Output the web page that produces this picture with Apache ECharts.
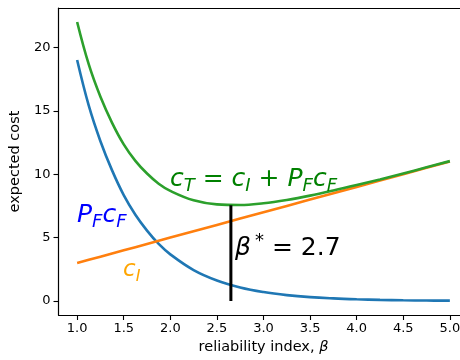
<!DOCTYPE html>
<html>
<head>
<meta charset="utf-8">
<script src="https://cdn.jsdelivr.net/npm/echarts@6/dist/echarts.min.js"></script>
<style>html,body{margin:0;padding:0;background:#fff}#c{width:460px;height:360px}</style>
</head>
<body>
<div id="c"></div>
<script>
// reliability index values (x)
const beta = [1.0, 1.125, 1.25, 1.375, 1.5, 1.625, 1.75, 1.875, 2.0, 2.25, 2.5, 2.75, 3.0, 3.25, 3.5, 3.75, 4.0, 4.25, 4.5, 4.75, 5.0];
// expected failure cost P_F c_F
const failureCost = [19.0, 15.4, 12.6, 10.3, 8.35, 6.8, 5.55, 4.5, 3.68, 2.44, 1.62, 1.07, 0.71, 0.47, 0.31, 0.21, 0.14, 0.09, 0.06, 0.04, 0.03];
// initial cost c_I
const initialCost = [3.0, 3.25, 3.5, 3.75, 4.0, 4.25, 4.5, 4.75, 5.0, 5.5, 6.0, 6.5, 7.0, 7.5, 8.0, 8.5, 9.0, 9.5, 10.0, 10.5, 11.0];
// total cost c_T
const totalCost = [22.0, 18.65, 16.1, 14.05, 12.35, 11.05, 10.05, 9.25, 8.68, 7.94, 7.62, 7.57, 7.71, 7.97, 8.31, 8.71, 9.14, 9.59, 10.06, 10.54, 11.03];
// optimum marker
const optimumBeta = [2.65, 2.65];
const optimumLine = [0, 7.55];
// tick labels
const xTicks = [1.0, 1.5, 2.0, 2.5, 3.0, 3.5, 4.0, 4.5, 5.0];
const yTicks = [0, 5, 10, 15, 20];

const FONT = 'DejaVu Sans';
const pairs = (xs, ys) => xs.map((x, i) => [x, ys[i]]);

const chart = echarts.init(document.getElementById('c'), null, {renderer: 'canvas'});
const axisLine = {show: true, onZero: false, lineStyle: {color: '#000', width: 1.2}};

function rich(size, color) {
  const sub = Math.round(size * 0.7);
  return {
    i: {fontFamily: FONT, fontStyle: 'italic', fontSize: size, lineHeight: 30, fill: color},
    n: {fontFamily: FONT, fontStyle: 'normal', fontSize: size, lineHeight: 30, fill: color},
    s: {fontFamily: FONT, fontStyle: 'italic', fontSize: sub, lineHeight: 17, padding: [14, 0, 0, 0], fill: color},
    p: {fontFamily: FONT, fontStyle: 'normal', fontSize: sub, lineHeight: 17, padding: [0, 0, 14, 4], fill: color}
  };
}
const txt = (left, top, text, size, color) => ({
  type: 'text', left: left, top: top, z: 100,
  style: {text: text, rich: rich(size, color), fill: color}
});

chart.setOption({
  animation: false,
  backgroundColor: '#fff',
  grid: {left: 58.5, top: 8, width: 410, height: 307, containLabel: false, outerBoundsMode: 'none'},
  xAxis: [{
    type: 'value', min: 0.8, max: 5.2, position: 'bottom',
    axisLine: axisLine,
    splitLine: {show: false},
    axisTick: {show: true, inside: false, length: 5, lineStyle: {color: '#000', width: 1.1}, customValues: xTicks},
    axisLabel: {customValues: xTicks, formatter: v => v.toFixed(1), color: '#000', fontFamily: FONT, fontSize: 13, margin: 7},
    name: 'reliability index, {b|β}', nameLocation: 'middle', nameGap: 20,
    nameTextStyle: {color: '#000', fontFamily: FONT, fontSize: 14.5, rich: {b: {fontFamily: FONT, fontStyle: 'italic', fontSize: 14.5, color: '#000'}}}
  }, {
    type: 'value', min: 0.8, max: 5.2, position: 'top',
    axisLine: axisLine, axisTick: {show: false}, axisLabel: {show: false}, splitLine: {show: false}
  }],
  yAxis: [{
    type: 'value', min: -1.1, max: 23.1, position: 'left',
    axisLine: axisLine,
    splitLine: {show: false},
    axisTick: {show: true, inside: false, length: 5, lineStyle: {color: '#000', width: 1.1}, customValues: yTicks},
    axisLabel: {customValues: yTicks, color: '#000', fontFamily: FONT, fontSize: 13, margin: 8},
    name: 'expected cost', nameLocation: 'middle', nameGap: 28,
    nameTextStyle: {color: '#000', fontFamily: FONT, fontSize: 14.5}
  }],
  series: [
    {type: 'line', data: pairs(beta, failureCost), showSymbol: false, smooth: 0.4,
     lineStyle: {color: '#1f77b4', width: 2.6}, itemStyle: {color: '#1f77b4'}, z: 2},
    {type: 'line', data: pairs(beta, initialCost), showSymbol: false,
     lineStyle: {color: '#ff7f0e', width: 2.6}, itemStyle: {color: '#ff7f0e'}, z: 3},
    {type: 'line', data: pairs(beta, totalCost), showSymbol: false, smooth: 0.4,
     lineStyle: {color: '#2ca02c', width: 2.6}, itemStyle: {color: '#2ca02c'}, z: 4},
    {type: 'line', data: pairs(optimumBeta, optimumLine), showSymbol: false,
     lineStyle: {color: '#000', width: 3}, itemStyle: {color: '#000'}, z: 5}
  ],
  graphic: [
    txt(77, 199, '{i|P}{s|F}{i|c}{s|F}', 25, '#0000ff'),
    txt(123, 255, '{i|c}{s|I}', 23, '#ffa500'),
    txt(170, 163, '{i|c}{s|T}{n| = }{i|c}{s|I}{n| + }{i|P}{s|F}{i|c}{s|F}', 25, '#008000'),
    txt(235, 232, '{i|β}{p|*}{n| = 2.7}', 25, '#000')
  ]
});
</script>
</body>
</html>
